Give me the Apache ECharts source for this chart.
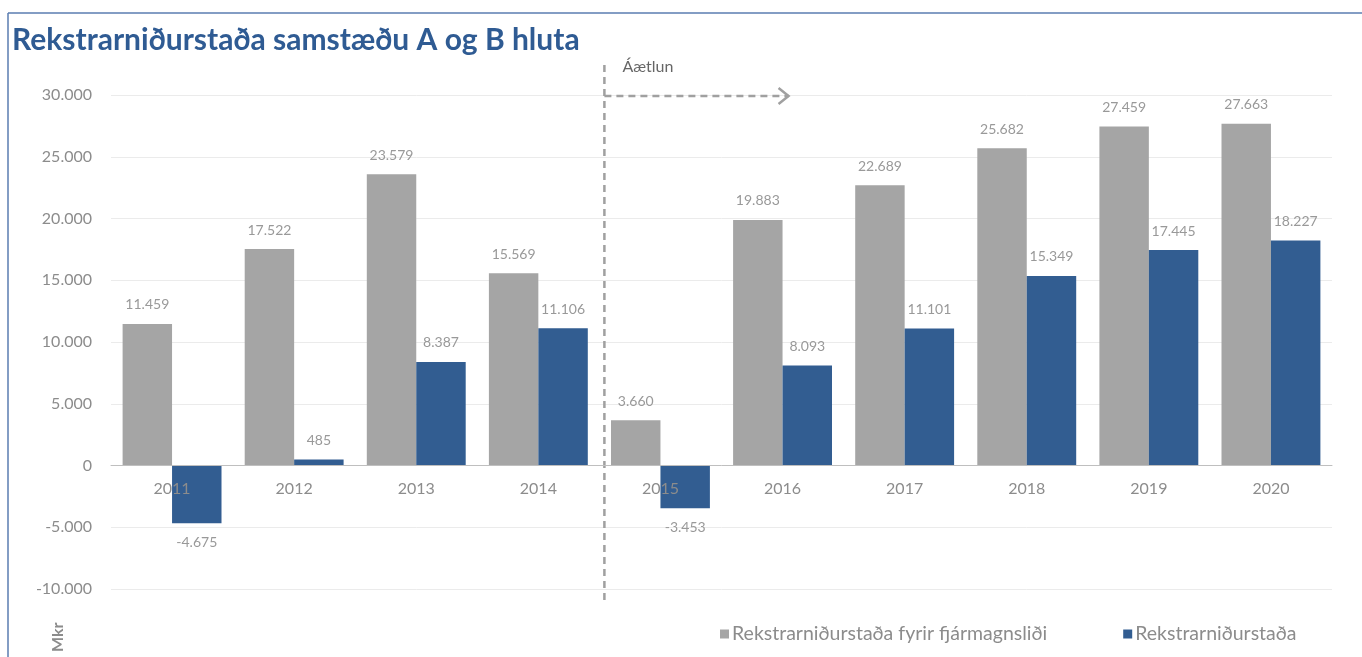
<!DOCTYPE html>
<html>
<head>
<meta charset="utf-8">
<script src="https://cdn.jsdelivr.net/npm/echarts@6/dist/echarts.min.js"></script>
<style>
  html, body { margin: 0; padding: 0; background: #fff; }
  #chart { width: 1362px; height: 657px; }
</style>
</head>
<body>
<div id="chart"></div>
<script>
const years = ['2011', '2012', '2013', '2014', '2015', '2016', '2017', '2018', '2019', '2020'];
const beforeFinance = [11459, 17522, 23579, 15569, 3660, 19883, 22689, 25682, 27459, 27663];
const result = [-4675, 485, 8387, 11106, -3453, 8093, 11101, 15349, 17445, 18227];
const seriesNames = ['Rekstrarniðurstaða fyrir fjármagnsliði', 'Rekstrarniðurstaða'];
const yMin = -10000, yMax = 30000, yStep = 5000;
const forecastFrom = '2015';

const font = 'Lato, "Noto Sans", sans-serif';
const gray = '#a5a5a5';
const blue = '#325d91';
const textGray = '#8c8c8c';

function fmt(v) {
  const s = String(Math.abs(v)).replace(/\B(?=(\d{3})+(?!\d))/g, '.');
  return (v < 0 ? '-' : '') + s;
}

function withLabels(values) {
  return values.map(v => ({
    value: v,
    label: { position: v < 0 ? 'bottom' : 'top' }
  }));
}

const chart = echarts.init(document.getElementById('chart'));

chart.setOption({
  animation: false,
  textStyle: { fontFamily: font },
  title: {
    text: 'Rekstrarniðurstaða samstæðu A og B hluta',
    left: 7, top: 20,
    textStyle: { fontFamily: font, fontSize: 30, fontWeight: 'bold', color: '#2f5b93' }
  },
  legend: {
    left: 715, top: 619,
    itemWidth: 9, itemHeight: 9, itemGap: 76,
    icon: 'rect',
    textStyle: { color: textGray, fontSize: 19.5, fontFamily: font, padding: [0, 0, 0, -2] },
    data: seriesNames
  },
  grid: { left: 111, right: 30, top: 95, bottom: 68, outerBoundsMode: 'none' },
  xAxis: {
    type: 'category',
    data: years,
    z: 5,
    axisTick: { show: false },
    axisLine: { onZero: false, lineStyle: { color: '#bfbfbf', width: 1 } },
    axisLabel: { color: textGray, fontSize: 16, margin: 15 }
  },
  yAxis: {
    type: 'value',
    min: yMin, max: yMax, interval: yStep,
    axisLine: { show: false },
    axisTick: { show: false },
    axisLabel: { color: textGray, fontSize: 16, margin: 19, formatter: fmt },
    splitLine: { lineStyle: { color: '#ebebeb', width: 1 } }
  },
  series: [
    {
      name: seriesNames[0],
      type: 'bar',
      data: withLabels(beforeFinance),
      itemStyle: { color: gray },
      barGap: '0%',
      barCategoryGap: '19%',
      label: { show: true, distance: 12, color: '#999', fontSize: 14, formatter: p => fmt(p.value) }
    },
    {
      name: seriesNames[1],
      type: 'bar',
      data: withLabels(result),
      itemStyle: { color: blue },
      barGap: '0%',
      barCategoryGap: '19%',
      label: { show: true, distance: 12, color: '#999', fontSize: 14, formatter: p => fmt(p.value) }
    }
  ]
});

// category axis sits on the zero line, labels included
const yTop = chart.convertToPixel({ yAxisIndex: 0 }, yMax);
const yBottom = chart.convertToPixel({ yAxisIndex: 0 }, yMin);
const yZero = chart.convertToPixel({ yAxisIndex: 0 }, 0);
chart.setOption({ xAxis: { offset: yZero - yBottom } });

// forecast divider, arrow and frame
const idx = years.indexOf(forecastFrom);
const xPrev = chart.convertToPixel({ xAxisIndex: 0 }, years[idx - 1]);
const xCur = chart.convertToPixel({ xAxisIndex: 0 }, years[idx]);
const xNext = chart.convertToPixel({ xAxisIndex: 0 }, years[idx + 1]);
const divX = (xPrev + xCur) / 2 + 5;
const arrowEnd = xNext + 6;
const dashStyle = { stroke: '#a0a0a0', lineWidth: 2.5, lineDash: [7, 5] };

chart.setOption({
  graphic: [
    { type: 'line', shape: { x1: 8, y1: 13, x2: 1362, y2: 13 }, style: { stroke: '#5a7db0', lineWidth: 1.5 } },
    { type: 'line', shape: { x1: 8, y1: 13, x2: 8, y2: 657 }, style: { stroke: '#5a7db0', lineWidth: 1.5 } },
    { type: 'line', shape: { x1: divX, y1: yTop - 30, x2: divX, y2: yBottom + 12 }, style: dashStyle },
    { type: 'line', shape: { x1: divX, y1: yTop + 1, x2: arrowEnd, y2: yTop + 1 }, style: dashStyle },
    { type: 'polyline', shape: { points: [[arrowEnd - 10, yTop - 7], [arrowEnd, yTop + 1], [arrowEnd - 10, yTop + 9]] }, style: { stroke: '#a0a0a0', lineWidth: 2.5, fill: null } },
    { type: 'text', left: divX + 18, top: yTop - 36, style: { text: 'Áætlun', fill: '#666', fontSize: 16, fontFamily: font } },
    { type: 'text', x: 50, y: 652, rotation: Math.PI / 2, style: { text: 'Mkr', fill: textGray, fontSize: 16, fontWeight: 'bold', fontFamily: font } }
  ]
});
</script>
</body>
</html>
